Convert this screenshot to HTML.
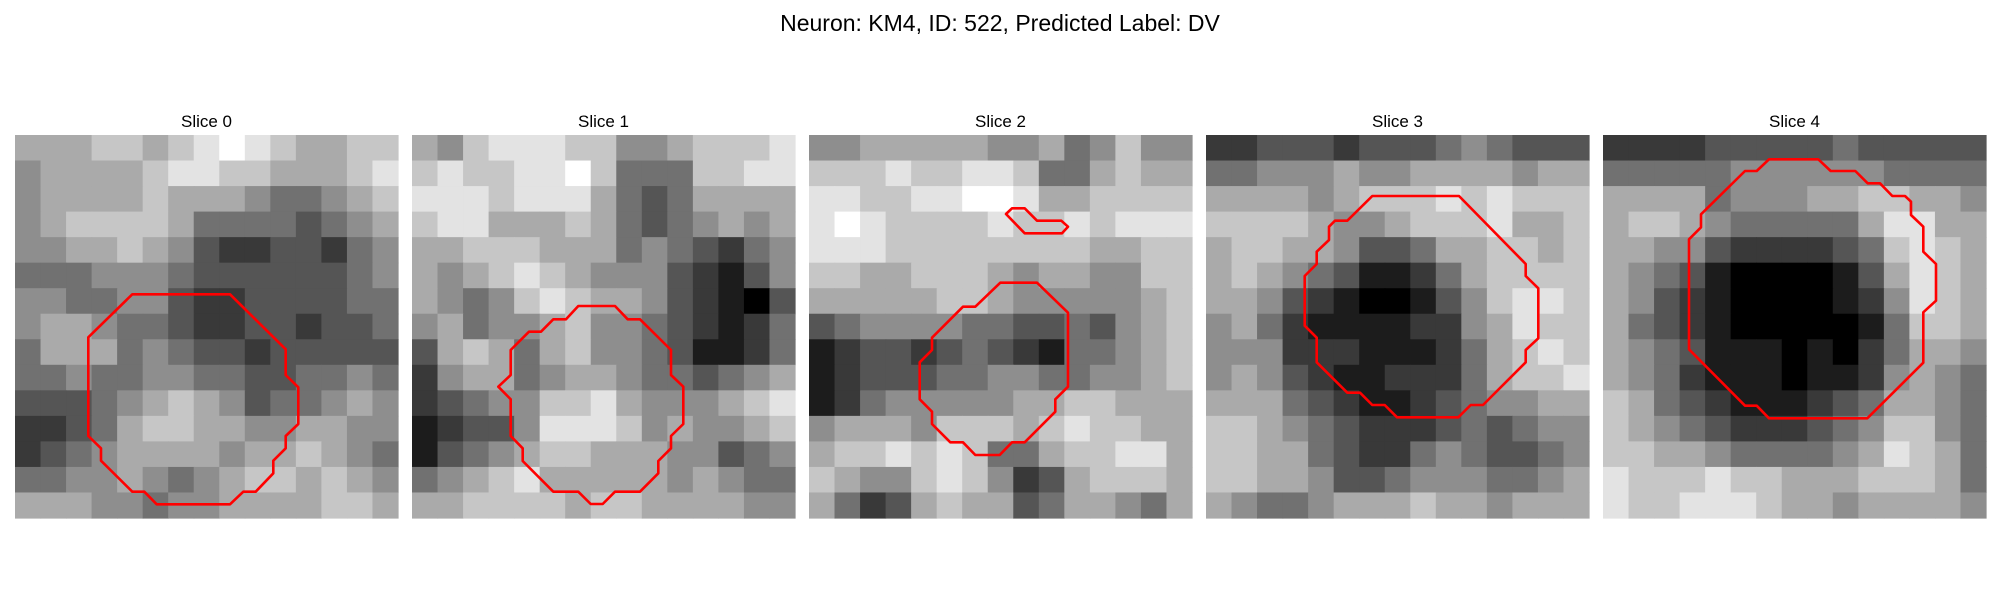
<!DOCTYPE html>
<html><head><meta charset="utf-8"><style>
html,body{margin:0;padding:0;background:#fff;}
svg{display:block;font-family:"Liberation Sans","DejaVu Sans",sans-serif;}
</style></head><body>
<svg id="fig" width="2000" height="600" viewBox="0 0 2000 600">
<text x="1000" y="31" text-anchor="middle" font-size="23" fill="#000">Neuron: KM4, ID: 522, Predicted Label: DV</text>
</svg>
<script>
const panelTitles = ["Slice 0","Slice 1","Slice 2","Slice 3","Slice 4"];
const img0 = ["666776789876677","566667887766678","566667666544567","567777644443456","556676532233245","444555433333345","554455322333344","566544322332334","466645433233333","445445544334454","333456765344565","223467766556655","234566665667654","445565456776765","666554556666776"];
const img1 = ["657888775567778","787788974447788","888788864346666","788666764345656","667776664543245","656787655532135","654578766532103","564556755432124","367646755431124","256645665443456","234557786555678","123358887565567","134567766655345","456786666656544","667777677666655"];
const img2 = ["556666655645755","777877887446766","887788998667777","898777787787888","888777777776677","776677765665577","666667765555567","345555443343567","123323432144567","123334455445567","124555556677666","566657776787766","677878744677886","765578752367776","642367663466546"];
const img3 = ["223332333454333","445556556666566","666656777878777","777765567778667","677665334667767","676543112467777","665321001357887","564211112256877","555222111246787","565321122246778","666432112345566","776543222343455","776643224543345","776653345554456","654456667665666"];
const img4 = ["222233333433333","444445555554444","666645556677665","677654444468866","665532222347876","654310000136876","653210000125876","643210000014776","654311101024665","654211101125654","764321112346654","765432223457754","776654444568764","877787766677764","877888766566665"];
const images = [img0,img1,img2,img3,img4];
const contour0 = [[117.3,159.3],[215,159.3],[270.7,214.3],[270.7,240],[283.3,252.3],[283.3,289],[270.7,301],[270.7,313.3],[258.3,325.7],[258.3,338.3],[240.7,356.7],[228.3,356.7],[215,369.3],[141.7,369.3],[129.3,356.7],[117.3,356.7],[86,325.7],[86,313.3],[73.3,301],[73.3,202.3]];
const contour1 = [[166.3,171],[203,171],[215.7,184.3],[228,184.3],[259,215],[259,240],[271.3,251.7],[271.3,289],[259,301],[259,313.3],[246.3,326],[246.3,338.3],[228,356.7],[203,356.7],[190.7,369],[178.7,369],[166.3,356.7],[141.3,356.7],[110.7,326],[110.7,313.3],[98.7,301],[98.7,264.3],[86.3,251.7],[98.7,240],[98.7,215],[117,196.7],[129,196.7],[141.3,184.3],[154,184.3]];
const contour2a = [[191.3,147.7],[228,147.7],[259,177.7],[259,251.7],[246.3,264.3],[246.3,276.7],[215.7,307.3],[203,307.3],[190.7,320],[166.3,320],[154,307.3],[141.3,307.3],[123,289],[123,276.7],[110.7,264.3],[110.7,227.3],[123,215],[123,202.7],[154,171.7],[166.3,171.7]];
const contour2b = [[197,79],[203,73.3],[215.7,73.3],[228,85.7],[252.3,85.7],[259,91.7],[253,98.3],[215.7,98.3]];
const contour3 = [[166.3,61],[253,61],[319.7,129],[319.7,141],[332.3,153.3],[332.3,203.3],[319.7,215],[319.7,227.3],[277,270],[264.7,270],[252.3,282.3],[191,282.3],[178.7,270],[166.3,270],[154,257.7],[141.3,257.7],[110.7,227.3],[110.7,202.7],[98.7,190.7],[98.7,141],[110.7,129],[110.7,116.7],[123,105],[123,91.7],[129,85.7],[141.3,85.7]];
const contour4 = [[166,24.3],[215.3,24.3],[227.7,36],[252.3,36],[264.7,48.3],[277,48.3],[289.3,61],[302,61],[308,66.7],[308,80],[320.3,91.7],[320.3,116.7],[333,129],[333,165.7],[320.3,177.3],[320.3,227.7],[264.3,283.3],[166,283.3],[153.7,270.7],[142,270.7],[86,214.3],[86,104.3],[98,92.3],[98,79.3],[142,36],[153.7,36]];
const contours = [[contour0],[contour1],[contour2a,contour2b],[contour3],[contour4]];

const NS = "http://www.w3.org/2000/svg";
const svg = document.getElementById('fig');
const PX0 = 15, PSTEP = 397, PY = 135, PSIZE = 383;
for (let p = 0; p < 5; p++) {
  const g = document.createElementNS(NS, 'g');
  
  
  const ox = PX0 + p * PSTEP;
  g.setAttribute('transform', 'translate(' + ox + ',' + PY + ')');
  svg.appendChild(g);
  const t = document.createElementNS(NS, 'text');
  
  
  t.setAttribute('x', PSIZE / 2);
  t.setAttribute('y', -8);
  t.setAttribute('text-anchor', 'middle');
  t.setAttribute('font-size', '17');
  t.textContent = panelTitles[p];
  g.appendChild(t);
  const rows = images[p];
  const n = rows.length, cs = PSIZE / n;
  for (let r = 0; r < n; r++) {
    for (let c = 0; c < rows[r].length; c++) {
      const v = +rows[r][c];
      const gr = Math.round(v * 255 / 9);
      const rc = document.createElementNS(NS, 'rect');
      
      
      rc.setAttribute('x', (c * cs).toFixed(2));
      rc.setAttribute('y', (r * cs).toFixed(2));
      rc.setAttribute('width', (cs + 0.6).toFixed(2));
      rc.setAttribute('height', (cs + 0.6).toFixed(2));
      rc.setAttribute('fill', 'rgb(' + gr + ',' + gr + ',' + gr + ')');
      g.appendChild(rc);
    }
  }
  contours[p].forEach(function (pts, i) {
    const pl = document.createElementNS(NS, 'polygon');
    
    
    pl.setAttribute('points', pts.map(function (q) { return q[0] + ',' + q[1]; }).join(' '));
    pl.setAttribute('fill', 'none');
    pl.setAttribute('stroke', '#ff0000');
    pl.setAttribute('stroke-width', '2.6');
    pl.setAttribute('stroke-linejoin', 'round');
    g.appendChild(pl);
  });
}
</script>
</body></html>
